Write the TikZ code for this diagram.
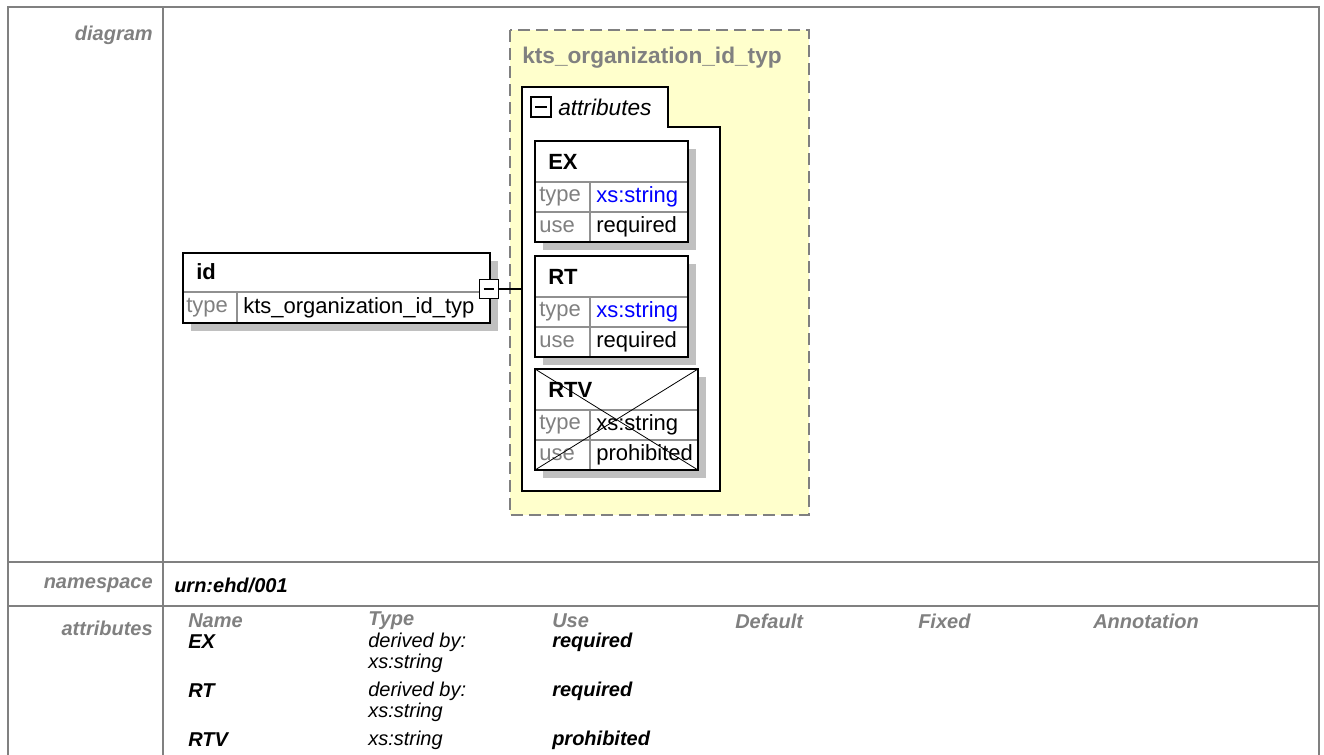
\documentclass[tikz,border=0pt]{standalone}
\usepackage{fontspec}
\setmainfont{Liberation Sans}
\definecolor{tgrey}{HTML}{808080}
\definecolor{shadowc}{HTML}{C0C0C0}
\definecolor{yel}{HTML}{FFFFCC}
\definecolor{rowc}{HTML}{909090}
\definecolor{xsblue}{HTML}{0000FF}
\tikzset{
  tline/.style={draw=tgrey,line width=1.5pt},
  lbl/.style={anchor=east,inner sep=0pt,text=tgrey,font=\fontsize{15}{18}\selectfont\bfseries\itshape},
  thead/.style={anchor=west,inner sep=0pt,text=tgrey,font=\fontsize{15}{18}\selectfont\bfseries\itshape},
  tval/.style={anchor=west,inner sep=0pt,font=\fontsize{15}{18}\selectfont\bfseries\itshape},
  tplain/.style={anchor=west,inner sep=0pt,font=\fontsize{15}{18}\selectfont\itshape},
  dtxt/.style={anchor=west,inner sep=0pt,font=\fontsize{16.5}{19}\selectfont},
  dgrey/.style={dtxt,text=tgrey},
  dhdr/.style={anchor=west,inner sep=0pt,font=\fontsize{16.5}{19}\selectfont\bfseries},
  boxline/.style={draw=black,line width=0.9pt},
  rowline/.style={draw=rowc,line width=0.8pt},
}
\newcommand\attrbox[8]{% #1 node name, #2 x0, #3 y0, #4 x1, #5 label, #6 type text, #7 type style, #8 use text
  \fill[shadowc] (#2+8,#3+8) rectangle (#4+8,#3+109);
  \draw[boxline,fill=white] (#2,#3) rectangle (#4,#3+101);
  \draw[rowline] (#2,#3+41) -- (#4,#3+41) (#2,#3+71) -- (#4,#3+71) (590,#3+41) -- (590,#3+101);
  \draw[boxline] (#2,#3) rectangle (#4,#3+101);
  \node[dhdr] (#1) at (#2+13,#3+21) {#5};
  \node[dgrey] (#1t) at (#2+4,#3+56) {type};
  \node[dtxt,#7] (#1tv) at (596,#3+56) {#6};
  \node[dgrey] (#1u) at (#2+4,#3+86) {use};
  \node[dtxt] (#1uv) at (596,#3+86) {#8};
}
\begin{document}
\begin{tikzpicture}[x=0.75pt,y=-0.75pt]
\useasboundingbox (0,0) rectangle (1324,754);
% table frame
\draw[tline] (8,760) -- (8,7) -- (1319,7) -- (1319,760);
\draw[tline] (163,7) -- (163,760);
\draw[tline] (8,562) -- (1319,562);
\draw[tline] (8,606) -- (1319,606);
\node[lbl] (ldiag) at (153,35) {diagram};
\node[lbl] (lns) at (153,585) {namespace};
\node[lbl] (lattr) at (153,628) {attributes};
\node[tval] (ns) at (174,585) {urn:ehd/001};
% attribute table
\node[thead] (hname) at (188,621) {Name};
\node[thead] (htype) at (368,621) {Type};
\node[thead] (huse) at (552,621) {Use};
\node[thead] (hdef) at (735,621) {Default};
\node[thead] (hfix) at (918,621) {Fixed};
\node[thead] (hann) at (1093,621) {Annotation};
\node[tval] (rEX) at (188,642) {EX};
\node[tplain] (tEXa) at (368,642) {derived by:};
\node[tplain] (tEXb) at (368,663) {xs:string};
\node[tval] (uEX) at (552,642) {required};
\node[tval] (rRT) at (188,691) {RT};
\node[tplain] (tRTa) at (368,691) {derived by:};
\node[tplain] (tRTb) at (368,712) {xs:string};
\node[tval] (uRT) at (552,691) {required};
\node[tval] (rRTV) at (188,740) {RTV};
\node[tplain] (tRTV) at (368,740) {xs:string};
\node[tval] (uRTV) at (552,740) {prohibited};
% complex type container
\draw[draw=tgrey,line width=1.5pt,fill=yel,dash pattern=on 9pt off 4.5pt] (510,30) rectangle (809,515);
\node[anchor=west,inner sep=0pt,text=tgrey,font=\fontsize{17}{20}\selectfont\bfseries] (ctname) at (522,58) {kts\_organization\_id\_typ};
% attributes group
\draw[boxline,fill=white] (522,87) -- (668,87) -- (668,127) -- (720,127) -- (720,491) -- (522,491) -- cycle;
\coordinate (attrL) at (522,289);
\draw[line width=0.9pt,fill=white] (531,97) rectangle (551,117);
\draw[line width=0.9pt] (535,107) -- (547,107);
\node[anchor=west,inner sep=0pt,font=\fontsize{17}{20}\selectfont\itshape] (agrp) at (558,107) {attributes};
% attribute boxes
\attrbox{EX}{535}{141}{688}{EX}{xs:string}{text=xsblue}{required}
\attrbox{RT}{535}{256}{688}{RT}{xs:string}{text=xsblue}{required}
\attrbox{RTV}{535}{369}{698}{RTV}{xs:string}{text=black}{prohibited}
\draw[line width=0.6pt] (535,369) -- (698,470) (698,369) -- (535,470);
% element id
\fill[shadowc] (191,261) rectangle (498,331);
\draw[boxline,fill=white] (183,253) rectangle (490,323);
\draw[rowline] (183,292) -- (490,292) (237,292) -- (237,323);
\draw[boxline] (183,253) rectangle (490,323);
\node[dhdr] (id) at (196,272) {id};
\node[dgrey] (idt) at (186,308) {type};
\node[dtxt] (idtv) at (243,308) {kts\_organization\_id\_typ};
\node[draw,line width=0.9pt,fill=white,minimum size=14.5pt,inner sep=0pt] (idm) at (489,289) {};
\draw[line width=0.9pt] ([xshift=-4pt]idm.center) -- ([xshift=4pt]idm.center);
\draw[line width=0.9pt] (idm.east) -- (attrL);
\end{tikzpicture}
\end{document}
